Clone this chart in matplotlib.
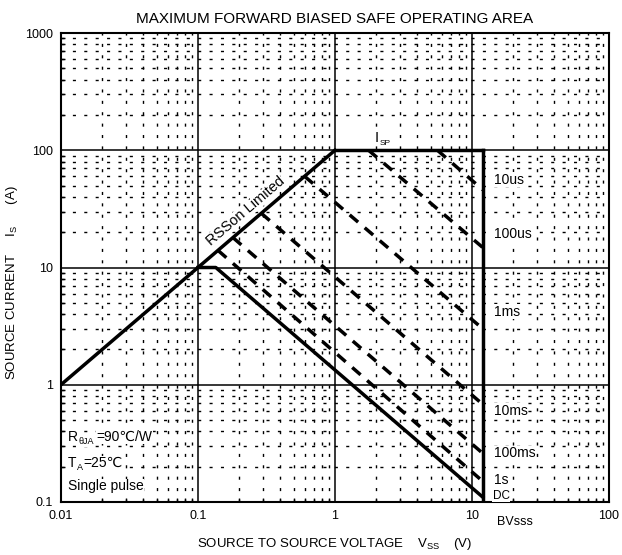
import matplotlib
matplotlib.use("Agg")
import matplotlib.pyplot as plt
from matplotlib.ticker import LogLocator, FixedLocator, NullFormatter

plt.rcParams['font.family'] = ['Liberation Sans', 'DejaVu Sans']
plt.rcParams['mathtext.fontset'] = 'custom'
plt.rcParams['mathtext.rm'] = 'Liberation Sans'

# limit lines (V, I)
rds_v = [0.01, 1]
rds_i = [1, 100]
isp_v = [1, 12]
isp_i = [100, 100]
bv_v = [12, 12]
bv_i = [0.1, 100]
dc_v = [0.1, 0.135, 12]
dc_i = [10, 10, 0.11]

# pulse lines, start and end points
pulse_names = ['10us', '100us', '1ms', '10ms', '100ms', '1s']
pulse_v = [[5.6, 12], [1.76, 12], [0.6, 12], [0.29, 12], [0.18, 12], [0.14, 12]]
pulse_i = [[100, 46], [100, 14.8], [60, 3.0], [29, 0.68], [18, 0.26], [14, 0.15]]
label_i = [56, 19.5, 4.2, 0.6, 0.26, 0.153]

xticks = [0.01, 0.1, 1, 10, 100]
xticklabels = ['0.01', '0.1', '1', '10', '100']
yticks = [0.1, 1, 10, 100, 1000]
yticklabels = ['0.1', '1', '10', '100', '1000']

white = dict(facecolor='white', edgecolor='none', pad=0.3)

fig = plt.figure(figsize=(6.22, 5.55), dpi=100)
ax = fig.add_axes([0.098, 0.0955, 0.881, 0.845])
ax.set_xscale('log'); ax.set_yscale('log')
ax.set_xlim(0.01, 100); ax.set_ylim(0.1, 1000)

ax.xaxis.set_major_locator(FixedLocator(xticks))
ax.set_xticklabels(xticklabels)
ax.yaxis.set_major_locator(FixedLocator(yticks))
ax.set_yticklabels(yticklabels)
ax.xaxis.set_minor_locator(LogLocator(base=10, subs=range(2, 10)))
ax.yaxis.set_minor_locator(LogLocator(base=10, subs=range(2, 10)))
ax.xaxis.set_minor_formatter(NullFormatter())
ax.yaxis.set_minor_formatter(NullFormatter())
ax.tick_params(which='major', length=0, labelsize=9, pad=6)
ax.tick_params(which='minor', direction='in', length=3, width=1)

ax.grid(which='major', color='k', lw=1.1, ls='-')
ax.grid(which='minor', color='k', lw=1.0, ls=(0, (2.2, 6)))
for s in ax.spines.values():
    s.set_linewidth(1.5)

ax.plot(rds_v, rds_i, color='k', lw=2.5)
ax.plot(isp_v, isp_i, color='k', lw=2.5)
ax.plot(bv_v, bv_i, color='k', lw=2.5)
ax.plot(dc_v, dc_i, color='k', lw=2.5)
for v, i in zip(pulse_v, pulse_i):
    ax.plot(v, i, color='k', lw=2.5, ls=(0, (3.2, 2.5)))

for name, li in zip(pulse_names, label_i):
    ax.text(14.5, li, name, fontsize=10, va='center', ha='left', bbox=white)
ax.text(14.2, 0.113, 'DC', fontsize=8.5, va='center', ha='left', bbox=white)
ax.text(0.128, 14.5, 'RSSon Limited', fontsize=10.5, rotation=40.5,
        rotation_mode='anchor', ha='left', va='bottom', bbox=white)
ax.annotate('I', (1.96, 128), fontsize=10.5, va='center', bbox=white)
ax.annotate('SP', (1.96, 128), xytext=(3.5, -4.5), textcoords='offset points',
            fontsize=6, va='center', bbox=white)

# conditions block (subscripts drawn as separate small texts)
ax.annotate('R', (0.0112, 0.36), fontsize=10, va='center', bbox=white)
ax.annotate('θJA', (0.0112, 0.36), xytext=(7.5, -3.5), textcoords='offset points',
            fontsize=6.5, va='center', bbox=white)
ax.annotate('=90℃/W', (0.0112, 0.36), xytext=(20.5, 0), textcoords='offset points',
            fontsize=10, va='center', bbox=white)
ax.annotate('T', (0.0112, 0.215), fontsize=10, va='center', bbox=white)
ax.annotate('A', (0.0112, 0.215), xytext=(6.5, -3.5), textcoords='offset points',
            fontsize=6.5, va='center', bbox=white)
ax.annotate('=25℃', (0.0112, 0.215), xytext=(11, 0), textcoords='offset points',
            fontsize=10, va='center', bbox=white)
ax.text(0.0112, 0.137, 'Single pulse', fontsize=10, va='center', bbox=white)
ax.text(20.5, 0.067, 'BVsss', fontsize=9, ha='center', va='center')

ax.set_title('MAXIMUM FORWARD BIASED SAFE OPERATING AREA', fontsize=11, pad=7)
ax.set_xlabel('SOURCE TO SOURCE VOLTAGE    $\\mathregular{V_{SS}}$    (V)', fontsize=9.5, labelpad=10)
fig.text(0.02, 0.49, 'SOURCE CURRENT     $\\mathregular{I_S}$      (A)', fontsize=9.5,
         rotation=90, ha='center', va='center')

fig.savefig('out.png', dpi=100)
